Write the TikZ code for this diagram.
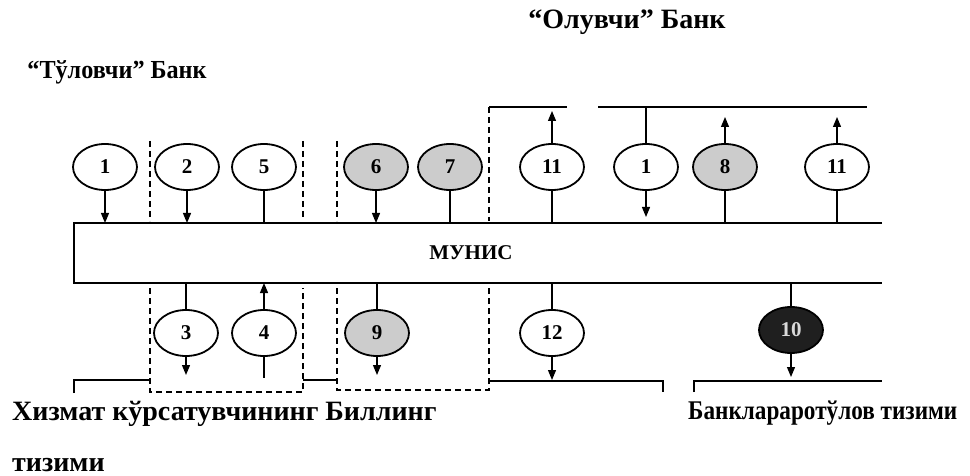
\documentclass[tikz,border=0pt]{standalone}
\usepackage{fontspec}
\setmainfont{Liberation Serif}
\usepackage{graphicx}
\usetikzlibrary{shapes.geometric,arrows.meta}
\begin{document}
\begin{tikzpicture}[x=1pt,y=-1pt,
  oval/.style={ellipse, draw, line width=1.8pt, minimum width=64pt, minimum height=46pt, inner sep=0pt, fill=white, font=\bfseries\fontsize{21}{21}\selectfont},
  greyoval/.style={oval, fill=black!20},
  blackoval/.style={oval, fill=black!88, text=black!15},
  arr/.style={line width=1.2pt, -{Triangle[length=10pt,width=8pt]}},
  ln/.style={line width=1.2pt},
  dsh/.style={line width=1.2pt, dash pattern=on 6pt off 4pt},
  lbl/.style={inner sep=0pt, font=\bfseries\fontsize{28}{28}\selectfont}
]
\useasboundingbox (0,0) rectangle (970,476);
% reference coordinates
\coordinate (bt) at (0,223);
\coordinate (bb) at (0,283);
\coordinate (tl) at (0,107);
\coordinate (bl) at (0,381);
% MUNIS box
\coordinate (bxa) at (74,223);
\coordinate (bxb) at (882,223);
\coordinate (bxc) at (74,283);
\coordinate (bxd) at (882,283);
\draw[ln] (bxb) -- (bxa) -- (bxc) -- (bxd);
\node[inner sep=0pt, font=\bfseries\fontsize{21}{21}\selectfont] (mun) at (471,253) {МУНИС};
% titles
\node[lbl] (olt) at (627,22) {“Олувчи” Банк};
\node[lbl, font=\bfseries\fontsize{26}{26}\selectfont] (tlt) at (117,72) {\scalebox{0.93}[1]{“Тўловчи” Банк}};
\node[lbl, anchor=west] (hiz) at (12,414) {Хизмат кўрсатувчининг Биллинг};
\node[lbl, anchor=west] (tiz) at (12,465) {тизими};
\node[lbl, anchor=west, font=\bfseries\fontsize{27}{27}\selectfont] (bank) at (688,413) {\scalebox{0.86}[1]{Банклараротўлов тизими}};
% top ovals
\node[oval] (t1) at (105,167) {1};
\node[oval] (t2) at (187,167) {2};
\node[oval] (t5) at (264,167) {5};
\node[greyoval] (t6) at (376,167) {6};
\node[greyoval] (t7) at (450,167) {7};
\node[oval] (t11a) at (552,167) {11};
\node[oval] (t1b) at (646,167) {1};
\node[greyoval] (t8) at (725,167) {8};
\node[oval] (t11b) at (837,167) {11};
% bottom ovals
\node[oval] (b3) at (186,333) {3};
\node[oval] (b4) at (264,333) {4};
\node[greyoval] (b9) at (377,333) {9};
\node[oval] (b12) at (552,333) {12};
\node[blackoval] (b10) at (791,330) {10};
% top connectors
\draw[arr] (t1.south) -- (t1.south |- bt);
\draw[arr] (t2.south) -- (t2.south |- bt);
\draw[ln] (t5.south) -- (t5.south |- bt);
\draw[arr] (t6.south) -- (t6.south |- bt);
\draw[ln] (t7.south) -- (t7.south |- bt);
\draw[ln] (t11a.south) -- (t11a.south |- bt);
\draw[arr, shorten >=4pt] (t11a.north) -- (t11a.north |- tl);
\draw[ln] (t1b.north |- tl) -- (t1b.north);
\draw[arr, shorten >=6pt] (t1b.south) -- (t1b.south |- bt);
\draw[ln] (t8.south) -- (t8.south |- bt);
\draw[arr, shorten >=10pt] (t8.north) -- (t8.north |- tl);
\draw[ln] (t11b.south) -- (t11b.south |- bt);
\draw[arr, shorten >=10pt] (t11b.north) -- (t11b.north |- tl);
% bottom connectors
\draw[ln] (b3.north |- bb) -- (b3.north);
\draw[arr, shorten >=6pt] (b3.south) -- (b3.south |- bl);
\draw[arr] (b4.north) -- (b4.north |- bb);
\draw[ln, shorten >=3pt] (b4.south) -- (b4.south |- bl);
\draw[ln] (b9.north |- bb) -- (b9.north);
\draw[arr, shorten >=6pt] (b9.south) -- (b9.south |- bl);
\draw[ln] (b12.north |- bb) -- (b12.north);
\draw[arr, shorten >=1pt] (b12.south) -- (b12.south |- bl);
\draw[ln] (b10.north |- bb) -- (b10.north);
\draw[arr, shorten >=4pt] (b10.south) -- (b10.south |- bl);
% top bracket lines
\coordinate (tla) at (489,107);
\coordinate (tlb) at (567,107);
\coordinate (tlc) at (598,107);
\coordinate (tld) at (867,107);
\draw[ln] (tla) -- (tlb);
\draw[ln] (tlc) -- (tld);
% dashed separators
\coordinate (d1a) at (150,141); \coordinate (d1b) at (150,221);
\coordinate (d2a) at (303,141); \coordinate (d2b) at (303,219);
\coordinate (d3a) at (337,141); \coordinate (d3b) at (337,221);
\coordinate (d4b) at (489,221);
\draw[dsh] (d1a) -- (d1b);
\draw[dsh] (d2a) -- (d2b);
\draw[dsh] (d3a) -- (d3b);
\draw[dsh] (tla) -- (d4b);
\coordinate (e1a) at (150,288); \coordinate (e1b) at (150,392);
\coordinate (e2a) at (303,288); \coordinate (e2b) at (303,392);
\coordinate (e3a) at (337,288); \coordinate (e3b) at (337,390);
\coordinate (e4a) at (489,288); \coordinate (e4b) at (489,390);
\draw[dsh] (e1a) -- (e1b) -- (e2b) -- (e2a);
\draw[dsh] (e3a) -- (e3b) -- (e4b) -- (e4a);
% bottom bracket lines
\coordinate (g1) at (74,393); \coordinate (g2) at (74,380);
\coordinate (g3) at (150,380);
\draw[ln] (g1) -- (g2) -- (g3);
\coordinate (g4) at (303,380); \coordinate (g5) at (337,380);
\draw[ln] (g4) -- (g5);
\coordinate (g6) at (489,381); \coordinate (g7) at (663,381); \coordinate (g8) at (663,392);
\draw[ln] (g6) -- (g7) -- (g8);
\coordinate (g9) at (694,392); \coordinate (g10) at (694,381); \coordinate (g11) at (882,381);
\draw[ln] (g9) -- (g10) -- (g11);
\end{tikzpicture}
\end{document}
